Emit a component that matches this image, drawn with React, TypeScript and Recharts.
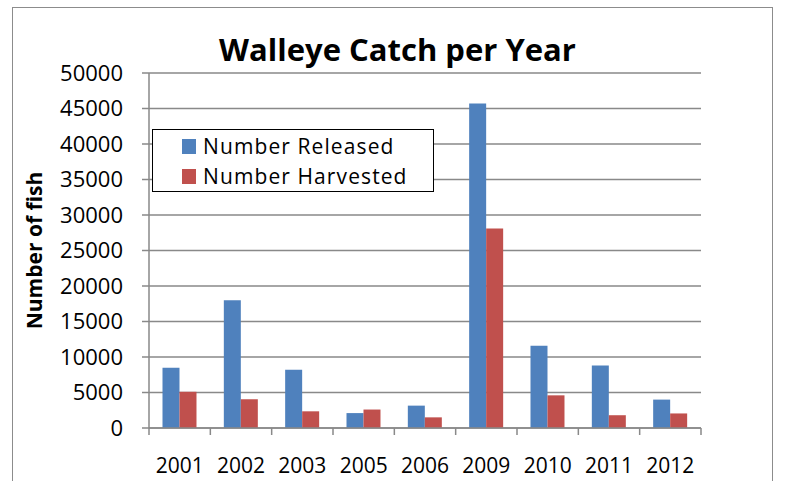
import { BarChart, Bar, XAxis, YAxis, CartesianGrid, Legend } from "recharts";

const years = ["2001", "2002", "2003", "2005", "2006", "2009", "2010", "2011", "2012"];
const released = [8500, 18000, 8200, 2100, 3150, 45700, 11600, 8800, 4000];
const harvested = [5100, 4050, 2350, 2600, 1500, 28100, 4600, 1800, 2050];
const yTicks = [0, 5000, 10000, 15000, 20000, 25000, 30000, 35000, 40000, 45000, 50000];

const BLUE = "#4F81BD";
const RED = "#C0504D";
const GRID = "#898989";
const FONT = "'Open Sans', 'Liberation Sans', sans-serif";
const TICK_SIZE = 7;
const TICK_MARGIN = 23;

const data = years.map((y, i) => ({
  year: y,
  released: released[i],
  harvested: harvested[i],
}));

// Excel puts the x tick marks between categories, not under them
function YearTick(props: any) {
  const { x, y, payload } = props;
  const half = payload.offset ?? 30.6;
  const axisY = y - TICK_SIZE - TICK_MARGIN;
  const isLast = payload.value === years[years.length - 1];
  return (
    <g>
      <line x1={x - half} x2={x - half} y1={axisY} y2={axisY + TICK_SIZE} stroke={GRID} strokeWidth={1.5} />
      {isLast && (
        <line x1={x + half} x2={x + half} y1={axisY} y2={axisY + TICK_SIZE} stroke={GRID} strokeWidth={1.5} />
      )}
      <text x={x} y={y} dy="0.71em" textAnchor="middle" fill="#000" fontSize={21} fontFamily={FONT}>
        {payload.value}
      </text>
    </g>
  );
}

function LegendBox() {
  const items = [
    { label: "Number Released", color: BLUE },
    { label: "Number Harvested", color: RED },
  ];
  return (
    <div
      style={{
        width: 282,
        height: 63,
        border: "1.5px solid #000",
        background: "#fff",
        boxSizing: "border-box",
        paddingTop: 1,
        fontFamily: FONT,
        fontSize: 21,
        color: "#000",
        textAlign: "left",
      }}
    >
      {items.map((it) => (
        <div
          key={it.label}
          style={{ display: "flex", alignItems: "center", height: 30, paddingLeft: 29 }}
        >
          <span
            style={{ width: 14, height: 15, background: it.color, display: "inline-block", marginRight: 7 }}
          />
          <span style={{ letterSpacing: 1.1 }}>{it.label}</span>
        </div>
      ))}
    </div>
  );
}

export default function App() {
  return (
    <div style={{ position: "absolute", left: 0, top: 0, width: 785, height: 481, background: "#fff" }}>
      <div
        style={{
          position: "absolute",
          left: 12,
          top: 7,
          width: 761,
          height: 520,
          border: "1.5px solid #8c8c8c",
          boxSizing: "border-box",
        }}
      />
      <div
        style={{
          position: "absolute",
          left: 0,
          top: 29,
          width: 785,
          textAlign: "center",
          paddingLeft: 10,
          boxSizing: "border-box",
          fontFamily: FONT,
          fontWeight: 700,
          fontSize: 31,
          color: "#000",
          lineHeight: "40px",
        }}
      >
        Walleye Catch per Year
      </div>
      <div style={{ position: "absolute", left: 0, top: 0 }}>
        <BarChart
          width={785}
          height={481}
          data={data}
          margin={{ top: 73, right: 84, left: 20, bottom: 23 }}
          barCategoryGap="22%"
          barGap={0}
        >
          <CartesianGrid vertical={false} stroke={GRID} strokeWidth={1.5} />
          <XAxis
            dataKey="year"
            height={30}
            axisLine={{ stroke: GRID, strokeWidth: 1.5 }}
            tickLine={false}
            tickSize={TICK_SIZE}
            tickMargin={TICK_MARGIN}
            tick={<YearTick />}
            interval={0}
          />
          <YAxis
            domain={[0, 50000]}
            ticks={yTicks}
            width={129}
            interval={0}
            tickSize={7}
            tickMargin={19}
            axisLine={{ stroke: GRID, strokeWidth: 1.5 }}
            tickLine={{ stroke: GRID, strokeWidth: 1.5 }}
            tick={{ fill: "#000", fontSize: 22, fontFamily: FONT }}
            label={{
              value: "Number of fish",
              angle: -90,
              position: "insideLeft",
              offset: 15,
              style: { textAnchor: "middle", fontFamily: FONT, fontWeight: 700, fontSize: 21, fill: "#000" },
            }}
          />
          <Legend
            layout="vertical"
            align="center"
            verticalAlign="middle"
            content={() => <LegendBox />}
            wrapperStyle={{ position: "absolute", left: 152, top: 129, width: 282, height: 63 }}
          />
          <Bar dataKey="released" name="Number Released" fill={BLUE} isAnimationActive={false} />
          <Bar dataKey="harvested" name="Number Harvested" fill={RED} isAnimationActive={false} />
        </BarChart>
      </div>
    </div>
  );
}
